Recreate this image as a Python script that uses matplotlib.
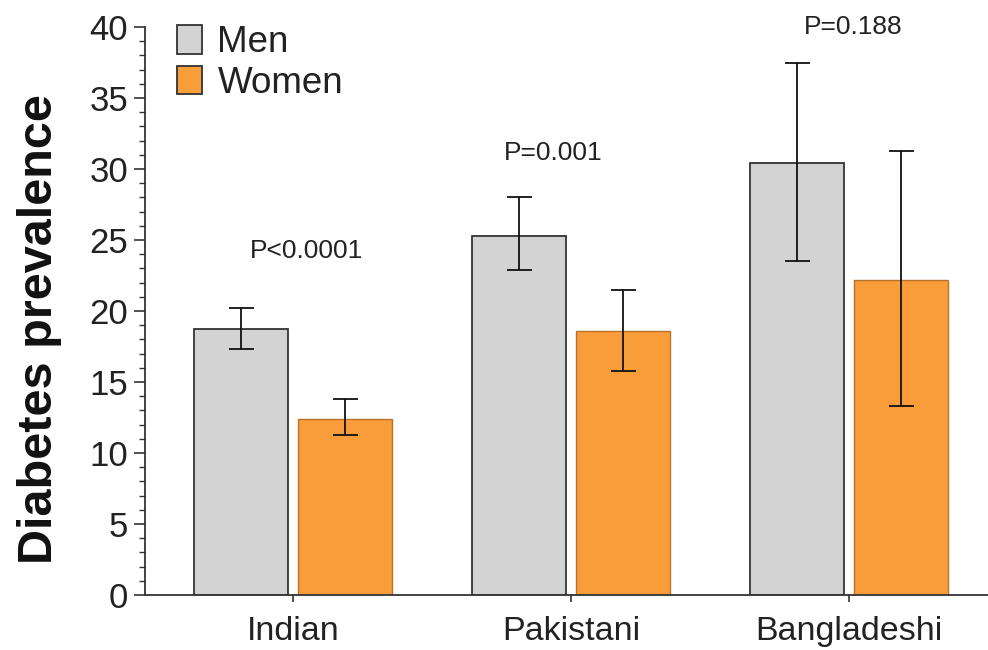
import matplotlib
matplotlib.use("Agg")
import matplotlib.pyplot as plt
import numpy as np

plt.rcParams['font.family'] = ['Liberation Sans', 'DejaVu Sans']

groups = ["Indian", "Pakistani", "Bangladeshi"]
men = [18.7, 25.3, 30.4]
men_lo = [17.3, 22.9, 23.5]
men_hi = [20.2, 28.0, 37.5]
women = [12.4, 18.6, 22.2]
women_lo = [11.3, 15.8, 13.3]
women_hi = [13.8, 21.5, 31.3]
p_labels = ["P<0.0001", "P=0.001", "P=0.188"]
p_label_y = [24.2, 31.1, 40.0]
p_label_dx = [0.05, -0.065, 0.015]

fig = plt.figure(figsize=(9.88, 6.5), dpi=100)
ax = fig.add_axes([0.1468, 0.0846, 0.8532, 0.8738])

x = np.arange(len(groups))
width = 0.338
offset = 0.187

men_err = [np.array(men) - np.array(men_lo), np.array(men_hi) - np.array(men)]
women_err = [np.array(women) - np.array(women_lo), np.array(women_hi) - np.array(women)]

err_kw = dict(ecolor="#111111", elinewidth=1.3, capsize=9, capthick=1.3)
ax.bar(x - offset, men, width, color="#d3d3d3", edgecolor="#333333",
       linewidth=1.3, label="Men", yerr=men_err, error_kw=err_kw, zorder=2)
ax.bar(x + offset, women, width, color="#f99c3a", edgecolor="#b8732a",
       linewidth=1.0, label="Women", yerr=women_err, error_kw=err_kw, zorder=2)

for xi, dx, yy, txt in zip(x, p_label_dx, p_label_y, p_labels):
    ax.text(xi + dx, yy, txt, ha="center", va="center", fontsize=19,
            color="#222222", clip_on=False)

ax.set_xlim(-0.532, 2.5)
ax.set_ylim(0, 40)
ax.set_xticks(x)
ax.set_xticklabels(groups, fontsize=24.5, color="#222222")
ax.set_yticks(np.arange(0, 41, 5))
ax.set_yticks(np.arange(0, 41, 1), minor=True)
ax.tick_params(axis="y", which="major", labelsize=25, length=8, width=1.2,
               color="#333333", labelcolor="#222222", pad=4)
ax.tick_params(axis="y", which="minor", length=4, width=1.0, color="#333333")
ax.tick_params(axis="x", which="major", length=5, width=1.2, color="#333333", pad=10)

for side in ("top", "right"):
    ax.spines[side].set_visible(False)
for side in ("left", "bottom"):
    ax.spines[side].set_color("#333333")
    ax.spines[side].set_linewidth(1.3)

ax.set_ylabel("Diabetes prevalence", fontsize=35, fontweight="bold",
              color="#111111", labelpad=20, y=0.468)

leg = ax.legend(loc="upper left", bbox_to_anchor=(177 / 988, 1 - 25 / 650),
                bbox_transform=fig.transFigure, frameon=False, fontsize=26.5,
                handlelength=0.68, handleheight=0.82, handletextpad=0.42,
                labelspacing=0.15, borderpad=0, borderaxespad=0)
for h in leg.legend_handles:
    h.set_edgecolor("#333333")
    h.set_linewidth(1.3)
for t in leg.get_texts():
    t.set_color("#222222")

fig.savefig("out.png", dpi=100)
